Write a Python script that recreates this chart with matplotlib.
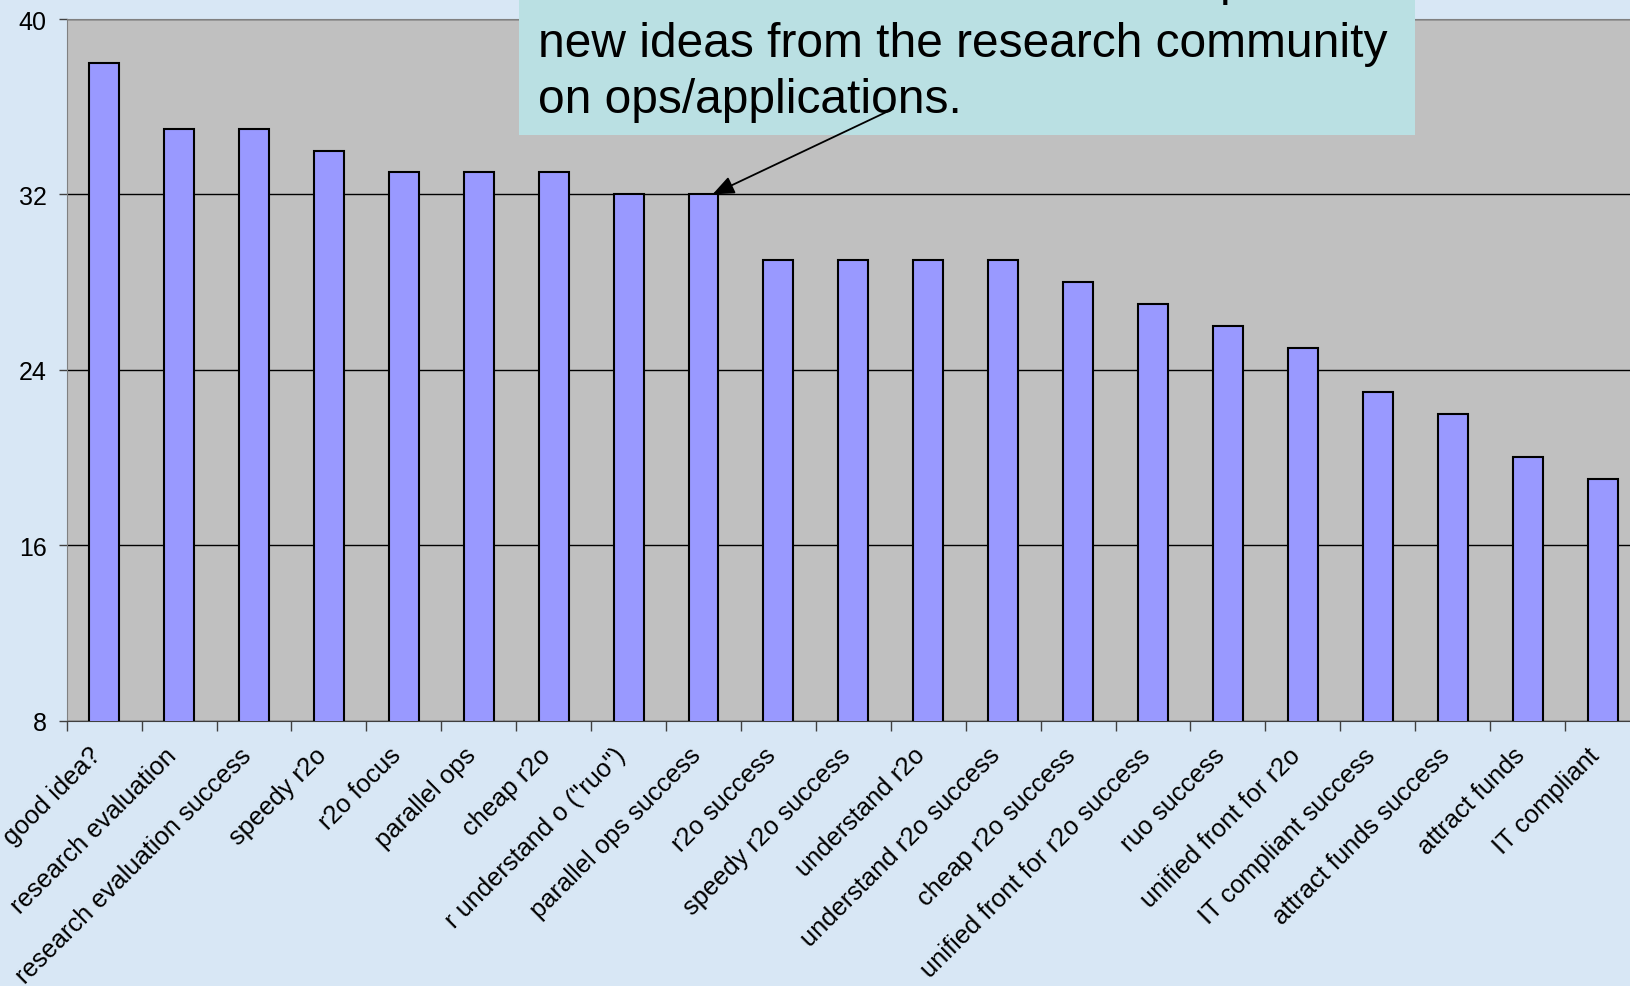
import matplotlib
matplotlib.use("Agg")
import matplotlib.pyplot as plt
from matplotlib.patches import Rectangle
from matplotlib.transforms import ScaledTranslation
import numpy as np

plt.rcParams['font.family'] = ['Liberation Sans', 'DejaVu Sans']

# survey counts per item
labels = ["good idea?", "research evaluation", "research evaluation success",
          "speedy r2o", "r2o focus", "parallel ops", "cheap r2o",
          "r understand o (\"ruo\")", "parallel ops success", "r2o success",
          "speedy r2o success", "understand r2o", "understand r2o success",
          "cheap r2o success", "unified front for r2o success", "ruo success",
          "unified front for r2o", "IT compliant success",
          "attract funds success", "attract funds", "IT compliant"]
counts = [38, 35, 35, 34, 33, 33, 33, 32, 32, 29, 29, 29, 29, 28, 27, 26,
          25, 23, 22, 20, 19]
yticks = [8, 16, 24, 32, 40]

note_lines = ["a center that is used to test and pass",
              "new ideas from the research community",
              "on ops/applications."]
arrow_target = 8  # bar the callout points at

W, H = 1631, 987
fig = plt.figure(figsize=(W / 100, H / 100), dpi=100)
fig.patch.set_facecolor('#D8E7F5')

ax = fig.add_axes([66.7 / W, 1 - 721.5 / H, 1573.3 / W, 701.5 / H])
ax.set_facecolor('#C0C0C0')

x = np.arange(len(labels))
ax.bar(x, counts, width=0.4, color='#9999FF', edgecolor='black',
       linewidth=1.5, zorder=3)

ax.set_xlim(-0.5, len(labels) - 0.5)
ax.set_ylim(8, 40)
ax.set_yticks(yticks)
ax.set_yticklabels([str(v) for v in yticks])
ax.yaxis.grid(True, color='black', linewidth=1.0)
ax.set_axisbelow(True)

# labels sit under the bars, ticks sit between them
ax.set_xticks(x)
ax.set_xticklabels(labels, rotation=45, ha='right', va='top',
                   rotation_mode='anchor', fontsize=18.4)
ax.set_xticks(np.arange(len(labels) + 1) - 0.5, minor=True)
ax.tick_params(axis='x', which='major', length=0, pad=16)
ax.tick_params(axis='x', which='minor', length=7, width=1, color='#404040')
ax.tick_params(axis='y', length=6, width=1, color='#404040', pad=8.5,
               labelsize=18)
shift = ScaledTranslation(-15 / 100, 0, fig.dpi_scale_trans)
for lbl in ax.get_xticklabels():
    lbl.set_transform(lbl.get_transform() + shift)

for side in ['left', 'top']:
    ax.spines[side].set_color('#808080')
ax.spines['bottom'].set_color('#404040')
ax.spines['right'].set_visible(False)

# callout box across the top
box = Rectangle((519 / W, 1 - 136 / H), (1415 - 519) / W, 200 / H,
                transform=fig.transFigure, facecolor='#BAE0E3',
                edgecolor='none', clip_on=False, zorder=5)
ax.add_patch(box)
baselines = [-5, 57.3, 113.3]
for line, base in zip(note_lines, baselines):
    ax.text(538 / W, 1 - base / H, line, transform=fig.transFigure,
            fontsize=34.5, va='baseline', ha='left', clip_on=False, zorder=6)

ax.annotate('', xy=(arrow_target + 0.12, counts[arrow_target]),
            xytext=(10.53, 35.9),
            arrowprops=dict(arrowstyle='-|>,head_length=0.6,head_width=0.25',
                            color='black', lw=1.3, mutation_scale=22,
                            shrinkA=0, shrinkB=0),
            annotation_clip=False, zorder=7)

fig.savefig('out.png', dpi=100)
